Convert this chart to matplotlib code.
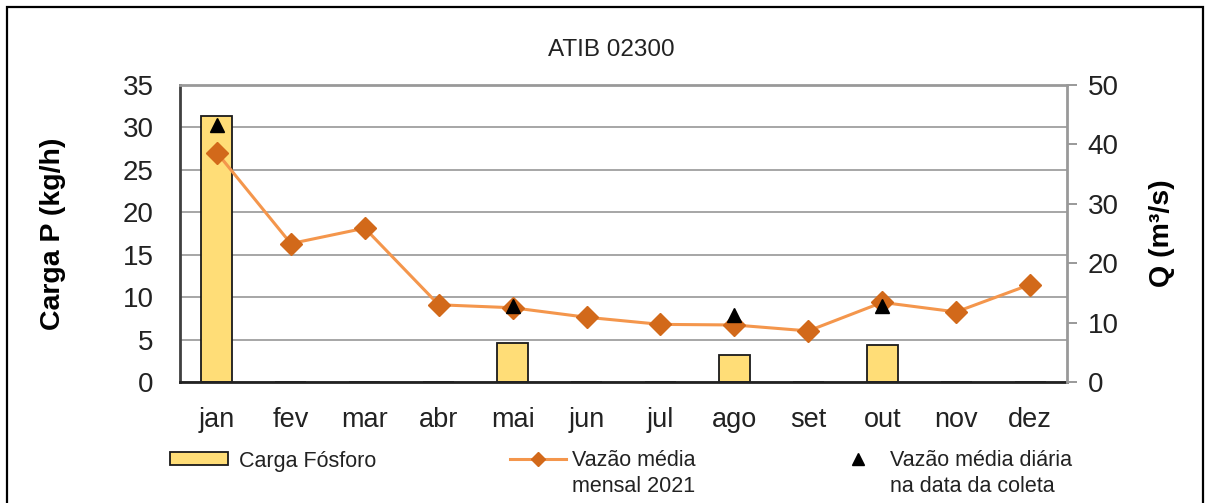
import matplotlib
matplotlib.use("Agg")
import matplotlib.pyplot as plt
from matplotlib.patches import Rectangle
from matplotlib.lines import Line2D

plt.rcParams["font.family"] = ["Liberation Sans", "DejaVu Sans"]

# dados
meses = ["jan", "fev", "mar", "abr", "mai", "jun", "jul", "ago", "set", "out", "nov", "dez"]
carga_fosforo = [31.3, 0, 0, 0, 4.6, 0, 0, 3.2, 0, 4.4, 0, 0]
vazao_mensal = [38.6, 23.3, 25.9, 13.0, 12.5, 10.9, 9.7, 9.6, 8.6, 13.4, 11.8, 16.4]
coleta_idx = [0, 4, 7, 9]
vazao_coleta = [43.2, 12.8, 11.3, 12.8]

x = list(range(len(meses)))

fig = plt.figure(figsize=(12.1, 5.03), dpi=100)
ax = fig.add_axes([180 / 1210, 121 / 503, 887 / 1210, 297 / 503])
ax2 = ax.twinx()

# barras
ax.bar(x, carga_fosforo, width=0.42, color="#FFDD77", edgecolor="#1a1a1a", linewidth=1.3, zorder=2)
ax.set_ylim(0, 35)
ax.set_yticks(range(0, 36, 5))
ax.set_xlim(-0.5, 11.5)
ax.set_xticks(x)
ax.set_xticklabels(meses)
ax.grid(axis="y", color="#a6a6a6", linewidth=1.4)
ax.set_axisbelow(True)
ax.tick_params(axis="y", length=0, pad=19, labelsize=20, labelcolor="#222222")
ax.tick_params(axis="x", length=0, pad=18, labelsize=19.5, labelcolor="#222222")
ax.set_ylabel("Carga P (kg/h)", fontsize=20.5, fontweight="bold")
ax.yaxis.set_label_coords(-0.1285, 0.5)

# vazões
ax2.plot(x, vazao_mensal, color="#F4964C", linewidth=2.2, marker="D", markersize=11,
         markerfacecolor="#D2691A", markeredgecolor="#D2691A", zorder=3)
ax2.plot(coleta_idx, vazao_coleta, linestyle="none", marker="^", markersize=9.5,
         color="black", zorder=4)
ax2.set_ylim(0, 50)
ax2.set_yticks(range(0, 51, 10))
ax2.tick_params(axis="y", length=7, width=1.4, color="#999999", pad=8, labelsize=20, labelcolor="#222222")
ax2.set_ylabel("Q (m³/s)", fontsize=20.5, fontweight="bold")
ax2.yaxis.set_label_coords(1.0924, 0.5)

for a in (ax, ax2):
    for s in a.spines.values():
        s.set_visible(False)
ax.spines["left"].set_visible(True)
ax.spines["left"].set_color("#404040")
ax.spines["left"].set_linewidth(2)
ax.spines["bottom"].set_visible(True)
ax.spines["bottom"].set_color("#222222")
ax.spines["bottom"].set_linewidth(2)
ax2.spines["top"].set_visible(True)
ax2.spines["top"].set_color("#999999")
ax2.spines["top"].set_linewidth(2)
ax2.spines["right"].set_visible(True)
ax2.spines["right"].set_color("#999999")
ax2.spines["right"].set_linewidth(2)

fig.text(611 / 1210, 1 - 50 / 503, "ATIB 02300", ha="center", va="center", fontsize=17.5, color="#222222")

# legenda
h_bar = Rectangle((0, 0), 1, 1, facecolor="#FFDD77", edgecolor="#1a1a1a", linewidth=1.3)
h_lin = Line2D([], [], color="#F4964C", linewidth=2.2, marker="D", markersize=7,
               markerfacecolor="#D2691A", markeredgecolor="#D2691A")
h_tri = Line2D([], [], linestyle="none", marker="^", markersize=8, color="black")

y_leg = 1 - 461 / 503
y_leg2 = 1 - 486 / 503
entradas = [
    (h_bar, "Carga Fósforo", None, 170, 2.7, 0.5),
    (h_lin, "Vazão média", "mensal 2021", 510, 2.6, 0.3),
    (h_tri, "Vazão média diária", "na data da coleta", 836, 2.0, 0.5),
]
legendas = []
for h, l1, l2, x0, hl, pad in entradas:
    leg = fig.legend([h], [l1], loc="center left", bbox_to_anchor=(x0 / 1210, y_leg),
                     frameon=False, borderpad=0, borderaxespad=0, fontsize=15.5,
                     handlelength=hl, handleheight=0.55, handletextpad=pad)
    for t in leg.get_texts():
        t.set_color("#222222")
    legendas.append((leg, l2))

fig.canvas.draw()
for leg, l2 in legendas:
    if l2:
        bb = leg.get_texts()[0].get_window_extent()
        fig.text(bb.x0 / fig.bbox.width, y_leg2, l2, ha="left", va="center", fontsize=15.5, color="#222222")

# moldura
fig.add_artist(Rectangle((7 / 1210, -0.02), 1196 / 1210, 1 - 7 / 503 + 0.02, transform=fig.transFigure,
                         fill=False, edgecolor="black", linewidth=1.6))

fig.savefig("out.png", dpi=100)
